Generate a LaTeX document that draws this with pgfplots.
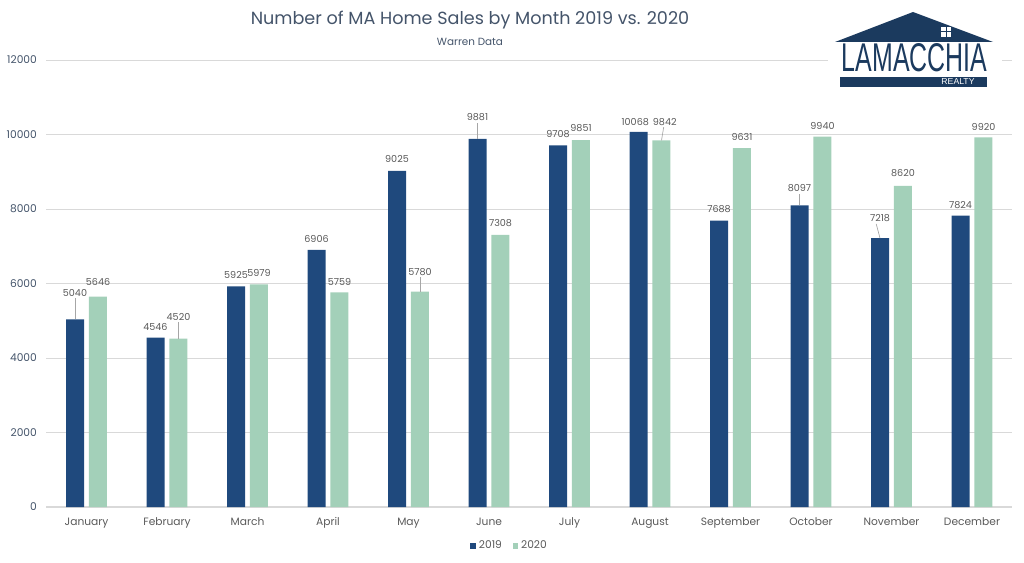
\documentclass[border=0pt]{standalone}
\usepackage{pgfplots}
\pgfplotsset{compat=1.18}
\usepackage{pgfplotstable}
\usepackage{fontspec}
\setmainfont{Poppins}
\newfontfamily\logofont{Liberation Sans}
\definecolor{c2019}{HTML}{1F497D}
\definecolor{c2020}{HTML}{A3D0B9}
\definecolor{titlec}{HTML}{44546A}
\definecolor{tickc}{HTML}{595959}
\definecolor{gridc}{HTML}{D9D9D9}
\definecolor{navy}{HTML}{1B3A5E}
\definecolor{leadc}{HTML}{A6A6A6}

\pgfplotstableread{
x v ly dx
0 5040 5750 0
1 4546 4841 0
2 5925 6229 0
3 6906 7205 0
4 9025 9336 0
5 9881 10470 0
6 9708 10015 0
7 10068 10337 -0.04
8 7688 7993 0
9 8097 8557 0
10 7218 7751 0
11 7824 8109 0
}\dA
\pgfplotstableread{
x v ly dx
0 5646 6050 0
1 4520 5110 0
2 5979 6275 0
3 5759 6050 0
4 5780 6318 0
5 7308 7617 0
6 9851 10168 0
7 9842 10345 0.04
8 9631 9944 0
9 9940 10230 0
10 8620 8960 0
11 9920 10211 0
}\dB

\begin{document}
\begin{tikzpicture}
\path[use as bounding box] (0,0) rectangle (768pt,421.5pt);
\begin{axis}[
  at={(34.69pt,41.25pt)}, anchor=south west,
  scale only axis, width=724.5pt, height=335.25pt,
  xmin=-0.5, xmax=11.5, ymin=0, ymax=12000,
  clip=false,
  axis lines=left,
  axis line style={-},
  y axis line style={draw=none},
  x axis line style={draw=gridc, line width=0.8pt},
  major tick length=0pt,
  ymajorgrids, grid style={draw=gridc, line width=0.6pt},
  ytick={0,2000,...,12000},
  xtick={0,...,11},
  xticklabels={January,February,March,April,May,June,July,August,September,October,November,December},
  scaled y ticks=false,
  yticklabel={\pgfmathprintnumber[fixed,1000 sep={}]{\tick}},
  /pgf/number format/assume math mode=true,
  yticklabel style={font=\fontsize{8}{9}\selectfont, text=titlec, xshift=-3.5pt},
  xticklabel style={font=\fontsize{8}{9}\selectfont, text=tickc, yshift=-4.5pt},
  legend style={at={(0.48,-0.087)}, anchor=center, draw=none, fill=none,
    legend columns=2, font=\fontsize{8}{9}\selectfont, text=tickc,
    /tikz/every even column/.append style={column sep=6pt},
    inner sep=1pt},
  every node near coord/.append style={anchor=center, font=\fontsize{7.2}{8}\selectfont, text=tickc, inner sep=0pt},
]
\addplot[ybar, bar width=13.5pt, bar shift=-8.6pt, fill=c2019, draw=none,
  legend image code/.code={\fill[c2019] (0pt,-2.2pt) rectangle (4.4pt,2.2pt);}]
  table[x=x, y=v] {\dA};
\addlegendentry{2019}
\addplot[ybar, bar width=13.5pt, bar shift=8.6pt, fill=c2020, draw=none,
  legend image code/.code={\fill[c2020] (0pt,-2.2pt) rectangle (4.4pt,2.2pt);}]
  table[x=x, y=v] {\dB};
\addlegendentry{2020}
% leader lines
\addplot[forget plot, leadc, line width=0.5pt] coordinates {(-0.143,5040) (-0.143,5600)};
\addplot[forget plot, leadc, line width=0.5pt] coordinates {(1.143,4520) (1.143,4960)};
\addplot[forget plot, leadc, line width=0.5pt] coordinates {(4.143,5780) (4.143,6170)};
\addplot[forget plot, leadc, line width=0.5pt] coordinates {(4.857,9881) (4.857,10320)};
\addplot[forget plot, leadc, line width=0.5pt] coordinates {(7.143,9842) (7.17,10200)};
\addplot[forget plot, leadc, line width=0.5pt] coordinates {(8.857,8097) (8.857,8410)};
\addplot[forget plot, leadc, line width=0.5pt] coordinates {(9.857,7218) (9.81,7600)};
% data labels
\addplot[forget plot, draw=none, mark=none, nodes near coords, point meta=explicit symbolic]
  table[x expr=\thisrow{x}-0.143+\thisrow{dx}, y=ly, meta=v] {\dA};
\addplot[forget plot, draw=none, mark=none, nodes near coords, point meta=explicit symbolic]
  table[x expr=\thisrow{x}+0.143+\thisrow{dx}, y=ly, meta=v] {\dB};
\end{axis}
% title
\node[font=\fontsize{13.2}{15}\selectfont, text=titlec] at (352.5pt,406.5pt) {Number of MA Home Sales by Month 2019 vs. 2020};
\node[font=\fontsize{7.8}{9}\selectfont, text=titlec] at (352.5pt,390pt) {Warren Data};
% logo
\begin{scope}[x=0.75pt, y=-0.75pt, shift={(0,421.5pt)}]
  \fill[white] (828,8) rectangle (1002,90);
  \fill[navy] (913,12) -- (835,42) -- (993,42) -- cycle;
  \fill[white] (941,27) rectangle (945.5,31.5);
  \fill[white] (946.5,27) rectangle (951,31.5);
  \fill[white] (941,32.5) rectangle (945.5,37);
  \fill[white] (946.5,32.5) rectangle (951,37);
  \fill[white] (842,42) rectangle (988,74);
  \node[inner sep=0pt, text=navy] at (914.5,58) {\resizebox{109pt}{21pt}{\logofont LAMACCHIA}};
  \fill[navy] (840,77) rectangle (987,87);
  \node[inner sep=0pt, text=white, font=\logofont\fontsize{6.5}{7}\selectfont] at (958,82) {REALTY};
\end{scope}
\end{tikzpicture}
\end{document}
